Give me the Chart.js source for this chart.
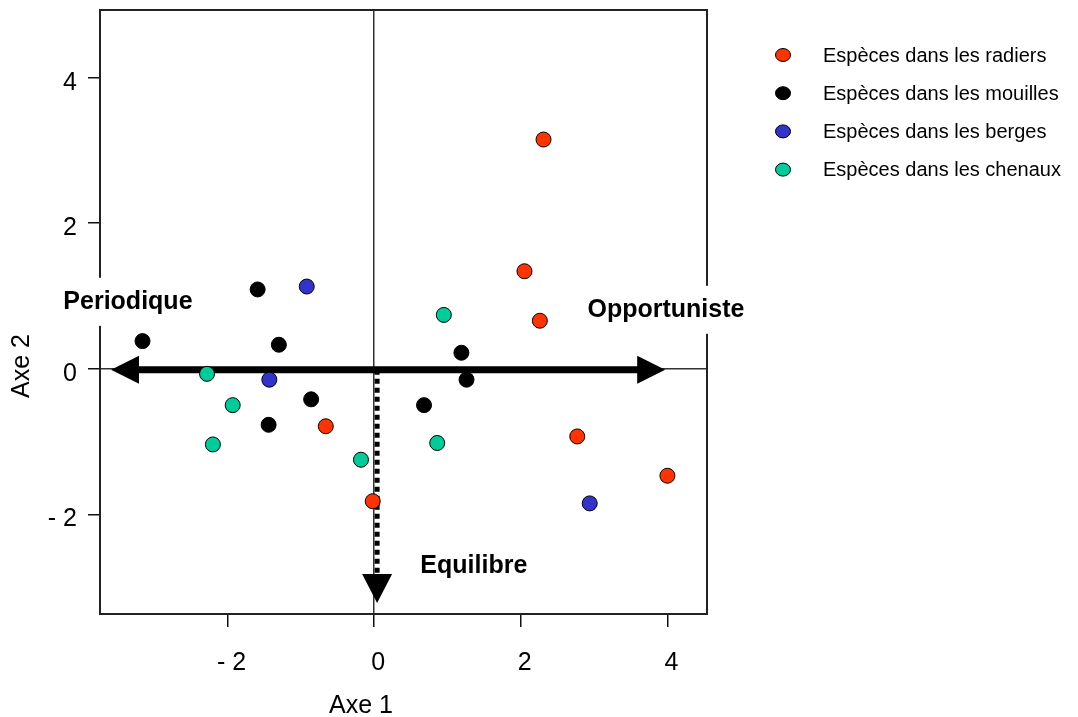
<!DOCTYPE html>
<html>
<head>
<meta charset="utf-8">
<title>ACP - espèces</title>
<script src="https://cdn.jsdelivr.net/npm/chart.js@4"></script>
<style>
    html, body { margin: 0; padding: 0; background: #fff; }
    #wrap { width: 1078px; height: 717px; }
</style>
</head>
<body>
<div id="wrap"><canvas id="acp" width="1078" height="717"></canvas></div>
<script>
// Coordonnées des espèces sur les axes 1 et 2
const radiersX = [2.31, 2.05, 2.26, -0.66, -0.02, 2.77, 4.00];
const radiersY = [3.15, 1.34, 0.66, -0.79, -1.82, -0.93, -1.47];

const mouillesX = [-1.59, -3.16, -1.30, -0.86, -1.44, 1.19, 1.26, 0.68];
const mouillesY = [1.09, 0.38, 0.33, -0.42, -0.77, 0.22, -0.15, -0.50];

const bergesX = [-0.92, -1.43, 2.94];
const bergesY = [1.13, -0.15, -1.85];

const chenauxX = [-2.28, -1.93, -2.20, -0.18, 0.95, 0.86];
const chenauxY = [-0.07, -0.50, -1.04, -1.25, 0.74, -1.02];

const seriesNames = [
    'Espèces dans les radiers',
    'Espèces dans les mouilles',
    'Espèces dans les berges',
    'Espèces dans les chenaux'
];
const seriesColors = ['#ff3300', '#000000', '#3333cc', '#00cc99'];

const xTicks = [-2, 0, 2, 4];
const yTicks = [-2, 0, 2, 4];

const FONT = "'Liberation Sans', Arial, Helvetica, sans-serif";

function toPoints(xs, ys) {
    return xs.map((x, i) => ({ x: x, y: ys[i] }));
}

function tickLabel(v) {
    return v < 0 ? '- ' + Math.abs(v) : String(v);
}

// Cadre, flèches des stratégies et libellés
const decor = {
    id: 'decor',
    beforeDatasetsDraw(chart) {
        const { ctx, chartArea: a, scales: { x, y } } = chart;
        ctx.save();

        // cadre du graphique
        ctx.strokeStyle = '#222';
        ctx.lineWidth = 2;
        ctx.strokeRect(a.left, a.top, a.right - a.left, a.bottom - a.top);

        // flèche double horizontale (Periodique <-> Opportuniste)
        const yh = y.getPixelForValue(0) + 1;
        const xl = x.getPixelForValue(-3.59);
        const xr = x.getPixelForValue(3.97);
        ctx.fillStyle = '#000';
        ctx.strokeStyle = '#000';
        ctx.lineWidth = 7;
        ctx.beginPath();
        ctx.moveTo(xl + 20, yh);
        ctx.lineTo(xr - 20, yh);
        ctx.stroke();
        ctx.beginPath();
        ctx.moveTo(xl, yh);
        ctx.lineTo(xl + 28, yh - 14);
        ctx.lineTo(xl + 28, yh + 14);
        ctx.closePath();
        ctx.fill();
        ctx.beginPath();
        ctx.moveTo(xr, yh);
        ctx.lineTo(xr - 28, yh - 14);
        ctx.lineTo(xr - 28, yh + 14);
        ctx.closePath();
        ctx.fill();

        // flèche pointillée verticale (Equilibre)
        const xv = x.getPixelForValue(0.04);
        const yb = y.getPixelForValue(-3.22);
        ctx.lineWidth = 5;
        ctx.setLineDash([5, 4]);
        ctx.beginPath();
        ctx.moveTo(xv, yh);
        ctx.lineTo(xv, yb - 26);
        ctx.stroke();
        ctx.setLineDash([]);
        ctx.beginPath();
        ctx.moveTo(xv, yb);
        ctx.lineTo(xv - 15, yb - 29);
        ctx.lineTo(xv + 15, yb - 29);
        ctx.closePath();
        ctx.fill();

        // libellés des stratégies, sur fond blanc
        ctx.font = 'bold 25px ' + FONT;
        ctx.textBaseline = 'middle';
        ctx.textAlign = 'left';
        const labels = [
            { text: 'Periodique', x: -4.24, y: 0.92, bg: true },
            { text: 'Opportuniste', x: 2.91, y: 0.81, bg: true },
            { text: 'Equilibre', x: 0.63, y: -2.71, bg: false }
        ];
        labels.forEach(l => {
            const px = x.getPixelForValue(l.x);
            const py = y.getPixelForValue(l.y);
            if (l.bg) {
                const w = ctx.measureText(l.text).width;
                ctx.fillStyle = '#fff';
                ctx.fillRect(px - 6, py - 24, w + 12, 48);
            }
            ctx.fillStyle = '#000';
            ctx.fillText(l.text, px, py);
        });

        ctx.restore();
    },
    afterDraw(chart) {
        const { ctx } = chart;
        ctx.save();

        // titres des axes
        ctx.fillStyle = '#000';
        ctx.font = '25px ' + FONT;
        ctx.textAlign = 'center';
        ctx.textBaseline = 'middle';
        ctx.fillText('Axe 1', 361, 706);
        ctx.translate(22, 366);
        ctx.rotate(-Math.PI / 2);
        ctx.fillText('Axe 2', 0, 0);
        ctx.setTransform(1, 0, 0, 1, 0, 0);

        // légende
        ctx.font = '20px ' + FONT;
        ctx.textAlign = 'left';
        chart.data.datasets.forEach((ds, i) => {
            const cy = 55 + i * 38.2;
            ctx.beginPath();
            ctx.ellipse(783, cy, 7.5, 6.5, 0, 0, Math.PI * 2);
            ctx.fillStyle = ds.backgroundColor;
            ctx.fill();
            ctx.lineWidth = 1;
            ctx.strokeStyle = '#000';
            ctx.stroke();
            ctx.fillStyle = '#000';
            ctx.fillText(ds.label, 823, cy + 1);
        });
        ctx.restore();
    }
};

const groups = [
    toPoints(radiersX, radiersY),
    toPoints(mouillesX, mouillesY),
    toPoints(bergesX, bergesY),
    toPoints(chenauxX, chenauxY)
];

const zeroLine = c => (c.tick && c.tick.value === 0 ? '#333' : 'rgba(0,0,0,0)');

new Chart(document.getElementById('acp'), {
    type: 'scatter',
    data: {
        datasets: groups.map((pts, i) => ({
            label: seriesNames[i],
            data: pts,
            backgroundColor: seriesColors[i],
            borderColor: '#000',
            borderWidth: 1,
            pointRadius: 7.5,
            pointHoverRadius: 7.5
        }))
    },
    options: {
        responsive: false,
        animation: false,
        devicePixelRatio: 1,
        layout: { padding: { left: 0, top: 10, right: 371, bottom: 0 } },
        plugins: {
            legend: { display: false },
            tooltip: { enabled: false }
        },
        scales: {
            x: {
                type: 'linear',
                min: -3.74,
                max: 4.54,
                afterFit: s => {
                    s.height = 103;
                    s.paddingLeft = 0;
                    s.paddingRight = 0;
                },
                afterBuildTicks: s => { s.ticks = xTicks.map(v => ({ value: v })); },
                border: { display: false },
                grid: {
                    color: zeroLine,
                    lineWidth: 1.5,
                    tickColor: '#111',
                    tickWidth: 1.5,
                    tickLength: 13
                },
                ticks: {
                    callback: tickLabel,
                    color: '#000',
                    font: { family: FONT, size: 25 },
                    padding: 21,
                    labelOffset: 4,
                    maxRotation: 0
                }
            },
            y: {
                type: 'linear',
                min: -3.37,
                max: 4.93,
                afterFit: s => {
                    s.width = 100;
                    s.paddingTop = 0;
                    s.paddingBottom = 0;
                },
                afterBuildTicks: s => { s.ticks = yTicks.map(v => ({ value: v })); },
                border: { display: false },
                grid: {
                    color: zeroLine,
                    lineWidth: 1.5,
                    tickColor: '#111',
                    tickWidth: 1.5,
                    tickLength: 12
                },
                ticks: {
                    callback: tickLabel,
                    color: '#000',
                    font: { family: FONT, size: 25 },
                    padding: 11,
                    labelOffset: 5
                }
            }
        }
    },
    plugins: [decor]
});
</script>
</body>
</html>
